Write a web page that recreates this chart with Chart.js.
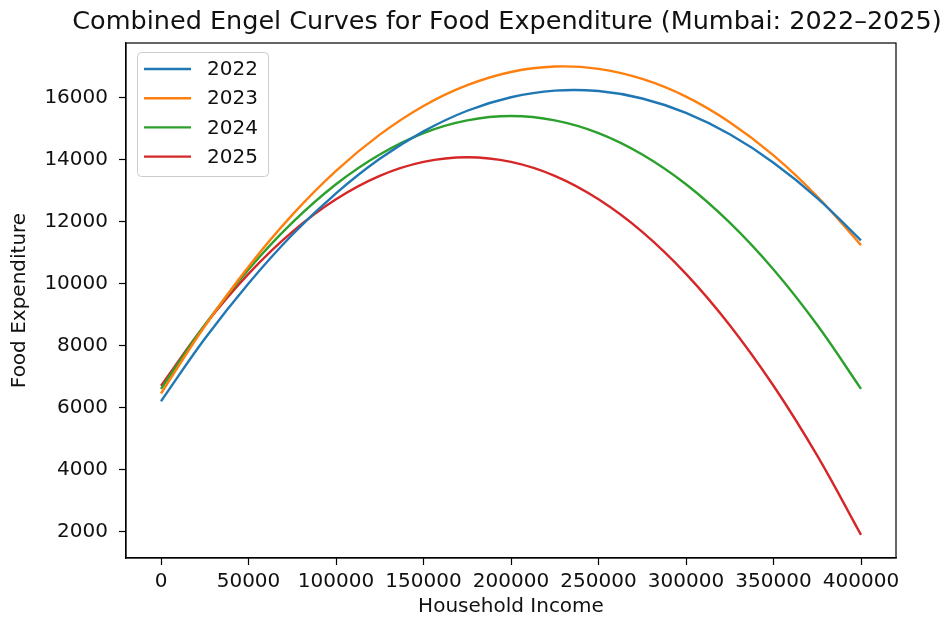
<!DOCTYPE html>
<html>
<head>
<meta charset="utf-8">
<title>Combined Engel Curves</title>
<script src="https://cdn.jsdelivr.net/npm/chart.js@4"></script>
<style>
  html, body { margin: 0; padding: 0; background: #fff; }
  #grafico { display: block; }
</style>
</head>
<body>
<canvas id="grafico" width="950" height="619"></canvas>
<script>
// household income (x) and food expenditure per year
const ingresos = [0, 25000, 50000, 75000, 100000, 125000, 150000, 175000, 200000,
                  225000, 250000, 275000, 300000, 325000, 350000, 375000, 400000];
const gasto2022 = [6200, 8215, 10000, 11570, 12905, 14020, 14905, 15570, 16005,
                   16220, 16205, 15965, 15500, 14810, 13895, 12755, 11390];
const gasto2023 = [6450, 8620, 10540, 12210, 13630, 14800, 15725, 16395, 16820,
                   16995, 16920, 16595, 16025, 15200, 14130, 12805, 11235];
const gasto2024 = [6600, 8660, 10450, 11960, 13200, 14160, 14850, 15260, 15400,
                   15260, 14850, 14160, 13200, 11960, 10450, 8660, 6600];
const gasto2025 = [6700, 8655, 10310, 11665, 12715, 13470, 13920, 14070, 13920,
                   13470, 12715, 11665, 10310, 8655, 6700, 4445, 1890];
const anios = ['2022', '2023', '2024', '2025'];
const colores = ['#1f77b4', '#ff7f0e', '#2ca02c', '#d62728'];
const ticksX = [0, 50000, 100000, 150000, 200000, 250000, 300000, 350000, 400000];
const ticksY = [2000, 4000, 6000, 8000, 10000, 12000, 14000, 16000];

const FUENTE = "'DejaVu Sans', sans-serif";
const series = [gasto2022, gasto2023, gasto2024, gasto2025];

const datasets = series.map((valores, i) => ({
    label: anios[i],
    data: valores.map((v, j) => ({ x: ingresos[j], y: v })),
    borderColor: colores[i],
    backgroundColor: colores[i],
    borderWidth: 2.4,
    pointRadius: 0,
    tension: 0.4,
    fill: false
}));

// titulo, marco del eje y leyenda al estilo matplotlib
const adornos = {
    id: 'adornos',
    afterDraw(chart) {
        const { ctx, chartArea: a } = chart;
        ctx.save();
        ctx.strokeStyle = '#000';
        ctx.lineWidth = 1.2;
        ctx.strokeRect(a.left, a.top, a.right - a.left, a.bottom - a.top);

        ctx.fillStyle = '#111';
        ctx.font = '25.5px ' + FUENTE;
        ctx.textAlign = 'center';
        ctx.textBaseline = 'middle';
        ctx.fillText('Combined Engel Curves for Food Expenditure (Mumbai: 2022\u20132025)', (a.left + a.right) / 2 - 4, 22);

        // leyenda
        const lx = 137.5, ly = 52.5, lw = 131, lh = 124;
        ctx.beginPath();
        ctx.roundRect(lx, ly, lw, lh, 4);
        ctx.fillStyle = 'rgba(255,255,255,0.8)';
        ctx.fill();
        ctx.strokeStyle = '#cccccc';
        ctx.lineWidth = 1;
        ctx.stroke();
        ctx.font = '20px ' + FUENTE;
        ctx.textAlign = 'left';
        chart.data.datasets.forEach((ds, i) => {
            const y = 69 + i * 29.2;
            ctx.beginPath();
            ctx.moveTo(144, y);
            ctx.lineTo(191, y);
            ctx.strokeStyle = ds.borderColor;
            ctx.lineWidth = 2.4;
            ctx.stroke();
            ctx.fillStyle = '#111';
            ctx.fillText(ds.label, 207, y + 1);
        });
        ctx.restore();
    }
};

new Chart(document.getElementById('grafico'), {
    type: 'line',
    data: { datasets: datasets },
    options: {
        responsive: false,
        animation: false,
        layout: { padding: { top: 43, right: 54, left: 0, bottom: 0 } },
        plugins: { legend: { display: false }, tooltip: { enabled: false }, title: { display: false } },
        scales: {
            x: {
                type: 'linear',
                min: -20000,
                max: 420000,
                afterBuildTicks: (s) => { s.ticks = ticksX.map(v => ({ value: v })); },
                afterFit: (s) => { s.height = 61; },
                grid: { drawOnChartArea: false, drawTicks: true, tickLength: 7, tickWidth: 1.2, tickColor: '#000' },
                border: { display: true, color: '#000', width: 1.2 },
                ticks: {
                    color: '#111', padding: 5, maxRotation: 0, autoSkip: false,
                    font: { family: FUENTE, size: 20 },
                    callback: (v) => String(v)
                },
                title: {
                    display: true, text: 'Household Income', color: '#111',
                    font: { family: FUENTE, size: 20 }, padding: { top: 0, bottom: 0 }
                }
            },
            y: {
                type: 'linear',
                min: 1145,
                max: 17755,
                afterBuildTicks: (s) => { s.ticks = ticksY.map(v => ({ value: v })); },
                afterFit: (s) => { s.width = 126; },
                grid: { drawOnChartArea: false, drawTicks: true, tickLength: 7, tickWidth: 1.2, tickColor: '#000' },
                border: { display: true, color: '#000', width: 1.2 },
                ticks: {
                    color: '#111', padding: 11, autoSkip: false,
                    font: { family: FUENTE, size: 20 },
                    callback: (v) => String(v)
                },
                title: {
                    display: true, text: 'Food Expenditure', color: '#111',
                    font: { family: FUENTE, size: 20 }, padding: { top: 8, bottom: 0 }
                }
            }
        }
    },
    plugins: [adornos]
});
</script>
</body>
</html>
